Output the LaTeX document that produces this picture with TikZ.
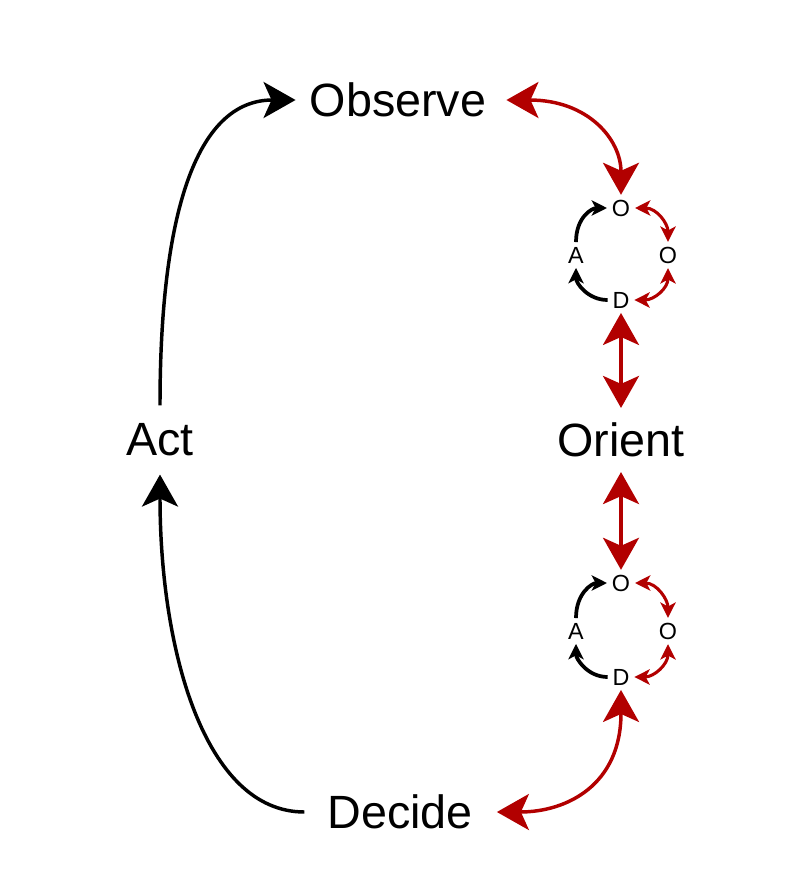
\documentclass[tikz,border=0pt]{standalone}
\usepackage{fontspec}
\setmainfont{Liberation Sans}
\usetikzlibrary{arrows.meta}
\definecolor{dred}{HTML}{B20000}
\begin{document}
\begin{tikzpicture}[x=0.75pt,y=-0.75pt,
  big/.style={font=\fontsize{35}{42}\selectfont, inner sep=0pt},
  small/.style={font=\fontsize{17.5}{20}\selectfont, inner sep=3.5pt},
  bigtip/.tip={Stealth[length=24pt,width=27pt,inset=6pt]},
  smalltip/.tip={Stealth[length=11.5pt,width=11.5pt,inset=3pt]},
  bk/.style={line width=2.6pt, black, -bigtip},
  bred/.style={line width=2.6pt, dred, bigtip-bigtip},
  sk/.style={line width=2.8pt, black, -smalltip},
  sred/.style={line width=2.3pt, dred, smalltip-smalltip}
]
\useasboundingbox (0,0) rectangle (788,896);

% main nodes
\node[big] (obs) at (398,100) {Observe};
\node[big] (act) at (160,440) {Act};
\node[big] (ori) at (621,440) {Orient};
\node[big] (dec) at (400,812) {Decide};

% small loop 1
\node[small] (ot1) at (621,208) {O};
\node[small] (or1) at (668,255) {O};
\node[small] (a1)  at (576,255) {A};
\node[small] (d1)  at (621,300) {D};

% small loop 2
\node[small] (ot2) at (621,583) {O};
\node[small] (or2) at (668,631) {O};
\node[small] (a2)  at (576,631) {A};
\node[small] (d2)  at (621,677) {D};

% main black loop
\draw[bk] ([yshift=13.5pt]act.north) .. controls +(0,-190) and +(-100,0) .. ([xshift=-10.5pt]obs.west);
\draw[bk] ([xshift=-17pt]dec.west) .. controls +(-100,0) and +(0,175) .. ([yshift=-13.5pt]act.south);

% red connections
\draw[bred] ([xshift=15pt]obs.east) .. controls +(82,0) and +(0,-55) .. (ot1.north);
\draw[bred] (d1.south) -- ([yshift=11pt]ori.north);
\draw[bred] ([yshift=-11pt]ori.south) -- (ot2.north);
\draw[bred] (d2.south) .. controls +(0,95) and +(70,0) .. ([xshift=18pt]dec.east);

% small loop 1 arrows
\draw[sk] (a1.north) .. controls +(0,-25) and +(-15,0) .. (ot1.west);
\draw[sk] (d1.west) .. controls +(-20,0) and +(0,15) .. (a1.south);
\draw[sred] (ot1.east) .. controls +(22,0) and +(0,-18) .. (or1.north);
\draw[sred] (or1.south) .. controls +(0,20) and +(20,0) .. (d1.east);

% small loop 2 arrows
\draw[sk] (a2.north) .. controls +(0,-25) and +(-15,0) .. (ot2.west);
\draw[sk] (d2.west) .. controls +(-20,0) and +(0,15) .. (a2.south);
\draw[sred] (ot2.east) .. controls +(22,0) and +(0,-18) .. (or2.north);
\draw[sred] (or2.south) .. controls +(0,20) and +(20,0) .. (d2.east);
\end{tikzpicture}
\end{document}
